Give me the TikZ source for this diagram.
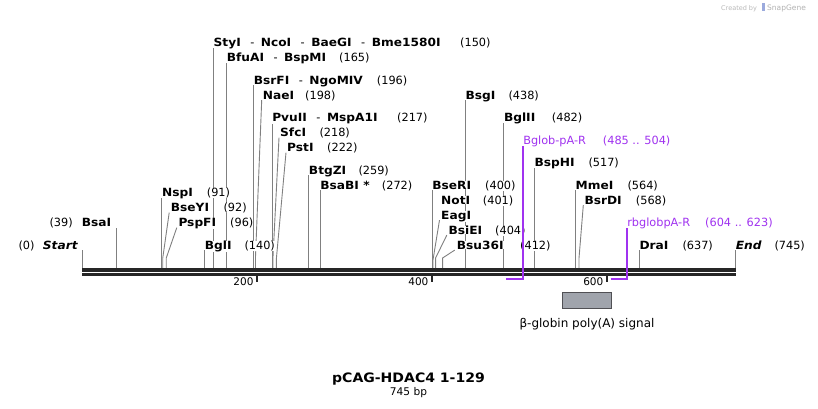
\documentclass[tikz,border=0pt]{standalone}
\usepackage{fontspec}
\setmainfont{DejaVu Sans}[BoldFeatures={FakeStretch=1.08},BoldItalicFeatures={FakeStretch=1.08}]
\usetikzlibrary{positioning, calc, backgrounds}

\definecolor{sitegray}{RGB}{128,128,128}
\definecolor{bbdark}{RGB}{38,38,38}
\definecolor{primerpurple}{RGB}{160,50,240}
\definecolor{featgray}{RGB}{160,164,172}
\definecolor{featedge}{RGB}{80,80,84}

\newcommand{\labfont}{\fontsize{11.3}{13}\selectfont}
\newcommand{\bpx}[1]{82.3+0.8745*#1}
\newcommand{\rowy}[1]{249.1-7.5*#1}
\newcommand{\enzsep}{\hspace{9.5pt}{\mdseries -}\hspace{6.5pt}}

\begin{document}
\begin{tikzpicture}[x=1pt, y=-1pt,
    enz/.style={anchor=base west, inner sep=0pt, fill=white, font=\labfont\bfseries},
    endlab/.style={enz, font=\labfont\bfseries\itshape},
    num/.style={anchor=base west, inner sep=0pt, fill=white, font=\labfont},
    site/.style={draw=sitegray, line width=0.9pt},
    primer/.style={draw=primerpurple, line width=1.5pt},
    tick/.style={draw=bbdark, line width=1.8pt},
    ticklab/.style={anchor=base east, inner sep=0pt, font=\fontsize{10.5}{12}\selectfont}]
    \useasboundingbox (0,0) rectangle (818,408);

    % Credit line
    \node[anchor=base west, inner sep=0pt, font=\fontsize{6.5}{7}\selectfont, text=gray!55] (credit) at (721,10) {Created by};
    \fill[cyan!35!blue!40] (761.5,3) rectangle (764.5,11);
    \node[anchor=base west, inner sep=0pt, font=\fontsize{7.5}{8}\selectfont, text=gray!60] (snapgene) at (767,10) {SnapGene};

    % Backbone
    \draw[bbdark, line width=3.7pt] (82.3,270.2) -- (735.7,270.2);
    \draw[bbdark, line width=2.3pt] (82.3,274.5) -- (735.7,274.5);

    % Ticks
    \foreach \t in {200,400,600} {
        \coordinate (k\t) at ({\bpx{\t}},275.7);
        \draw[tick] (k\t) -- ++(0,6.3);
        \node[ticklab] (tl\t) at ({\bpx{\t}-3.5},285.7) {\t};
    }

    % Site anchors on the backbone
    \foreach \s in {39,91,92,96,140,150,165,196,198,217,218,222,259,272,400,401,404,412,438,482,517,564,568,637}
        \coordinate (s\s) at ({\bpx{\s}},268);
    \coordinate (s0) at (82.3,268);
    \coordinate (s745) at (735.7,268);

    % Enzyme labels
    \node[num] (n0) at (18.3,{\rowy{0}}) {(0)};
    \node[endlab] (start) at (42.7,{\rowy{0}}) {Start};
    \node[endlab] (end) at (735.7,{\rowy{0}}) {End};
    \node[num] (n745) at (774.3,{\rowy{0}}) {(745)};
    \node[num] (n39) at (49.3,{\rowy{3}}) {(39)};
    \node[enz] (bsaI) at (81.7,{\rowy{3}}) {BsaI};

    \node[enz] (nspI) at ({\bpx{91}},{\rowy{7}}) {NspI};
    \node[num] (n91) at (206.7,{\rowy{7}}) {(91)};
    \node[enz] (bseYI) at (170.7,{\rowy{5}}) {BseYI};
    \node[num] (n92) at (223.3,{\rowy{5}}) {(92)};
    \node[enz] (pspFI) at (178.3,{\rowy{3}}) {PspFI};
    \node[num] (n96) at (230,{\rowy{3}}) {(96)};
    \node[enz] (bglI) at ({\bpx{140}},{\rowy{0}}) {BglI};
    \node[num] (n140) at (244.3,{\rowy{0}}) {(140)};

    \node[enz] (styI) at ({\bpx{150}},{\rowy{27}}) {StyI\enzsep NcoI\enzsep BaeGI\enzsep Bme1580I};
    \node[num] (n150) at (460,{\rowy{27}}) {(150)};
    \node[enz] (bfuAI) at ({\bpx{165}},{\rowy{25}}) {BfuAI\enzsep BspMI};
    \node[num] (n165) at (339,{\rowy{25}}) {(165)};
    \node[enz] (bsrFI) at ({\bpx{196}},{\rowy{22}}) {BsrFI\enzsep NgoMIV};
    \node[num] (n196) at (376.7,{\rowy{22}}) {(196)};
    \node[enz] (naeI) at (262.7,{\rowy{20}}) {NaeI};
    \node[num] (n198) at (305,{\rowy{20}}) {(198)};
    \node[enz] (pvuII) at ({\bpx{217}},{\rowy{17}}) {PvuII\enzsep MspA1I};
    \node[num] (n217) at (397,{\rowy{17}}) {(217)};
    \node[enz] (sfcI) at (280,{\rowy{15}}) {SfcI};
    \node[num] (n218) at (319.3,{\rowy{15}}) {(218)};
    \node[enz] (pstI) at (287,{\rowy{13}}) {PstI};
    \node[num] (n222) at (327,{\rowy{13}}) {(222)};
    \node[enz] (btgZI) at ({\bpx{259}},{\rowy{10}}) {BtgZI};
    \node[num] (n259) at (358.3,{\rowy{10}}) {(259)};
    \node[enz] (bsaBI) at ({\bpx{272}},{\rowy{8}}) {BsaBI *};
    \node[num] (n272) at (381.7,{\rowy{8}}) {(272)};

    \node[enz] (bseRI) at ({\bpx{400}},{\rowy{8}}) {BseRI};
    \node[num] (n400) at (485,{\rowy{8}}) {(400)};
    \node[enz] (notI) at (441,{\rowy{6}}) {NotI};
    \node[num] (n401) at (482.7,{\rowy{6}}) {(401)};
    \node[enz] (eagI) at (441,{\rowy{4}}) {EagI};
    \node[enz] (bsiEI) at (448.3,{\rowy{2}}) {BsiEI};
    \node[num] (n404) at (495,{\rowy{2}}) {(404)};
    \node[enz] (bsu36I) at (456.7,{\rowy{0}}) {Bsu36I};
    \node[num] (n412) at (520,{\rowy{0}}) {(412)};
    \node[enz] (bsgI) at ({\bpx{438}},{\rowy{20}}) {BsgI};
    \node[num] (n438) at (508.3,{\rowy{20}}) {(438)};

    \node[enz] (bglII) at ({\bpx{482}},{\rowy{17}}) {BglII};
    \node[num] (n482) at (551.7,{\rowy{17}}) {(482)};
    \node[enz] (bspHI) at ({\bpx{517}},{\rowy{11}}) {BspHI};
    \node[num] (n517) at (588.3,{\rowy{11}}) {(517)};
    \node[enz] (mmeI) at ({\bpx{564}},{\rowy{8}}) {MmeI};
    \node[num] (n564) at (627.3,{\rowy{8}}) {(564)};
    \node[enz] (bsrDI) at (584.3,{\rowy{6}}) {BsrDI};
    \node[num] (n568) at (635.7,{\rowy{6}}) {(568)};
    \node[enz] (draI) at ({\bpx{637}},{\rowy{0}}) {DraI};
    \node[num] (n637) at (682.3,{\rowy{0}}) {(637)};

    % Site lines, behind the labels
    \begin{scope}[on background layer]
        \fill[white] (0,0) rectangle (818,408);
        \draw[site] (s0) -- ($(s0 |- start.base)+(0,1)$);
        \draw[site] (s745) -- ($(end.base west)+(0,1)$);
        \draw[site] (s39) -- ($(s39 |- bsaI.base)+(0,1)$);
        \draw[site] (s91) -- ($(nspI.base west)+(0,1)$);
        \draw[site] (s92) -- ++(0,-10) -- ($(bseYI.base west)+(-1.5,1)$);
        \draw[site] (s96) -- ++(0,-10) -- ($(pspFI.base west)+(-1.5,1)$);
        \draw[site] (s140) -- ($(bglI.base west)+(0,1)$);
        \draw[site] (s150) -- ($(styI.base west)+(0,1)$);
        \draw[site] (s165) -- ($(bfuAI.base west)+(0,1)$);
        \draw[site] (s196) -- ($(bsrFI.base west)+(0,1)$);
        \draw[site] (s198) -- ++(0,-10) -- ($(naeI.base west)+(-1,1)$);
        \draw[site] (s217) -- ($(pvuII.base west)+(0,1)$);
        \draw[site] (s218) -- ++(0,-10) -- ($(sfcI.base west)+(-1,1)$);
        \draw[site] (s222) -- ++(0,-10) -- ($(pstI.base west)+(-1,1)$);
        \draw[site] (s259) -- ($(btgZI.base west)+(0,1)$);
        \draw[site] (s272) -- ($(bsaBI.base west)+(0,1)$);
        \draw[site] (s400) -- ($(bseRI.base west)+(0,1)$);
        \draw[site] (s401) -- ++(0,-8) -- ($(eagI.base west)+(-1.5,1)$);
        \draw[site] (s404) -- ++(0,-10) -- ($(bsiEI.base west)+(-1.5,1)$);
        \draw[site] (s412) -- ++(0,-10) -- ($(bsu36I.base west)+(-2,1)$);
        \draw[site] (s438) -- ($(bsgI.base west)+(0,1)$);
        \draw[site] (s482) -- ($(bglII.base west)+(0,1)$);
        \draw[site] (s517) -- ($(bspHI.base west)+(0,1)$);
        \draw[site] (s564) -- ($(mmeI.base west)+(0,1)$);
        \draw[site] (s568) -- ++(0,-10) -- ($(bsrDI.base west)+(-1,1)$);
        \draw[site] (s637) -- ($(draI.base west)+(0,1)$);
    \end{scope}

    % Primers
    \coordinate (p485) at ({\bpx{485}},279);
    \coordinate (p504) at ({\bpx{504}},279);
    \node[num, text=primerpurple] (bglob) at ({\bpx{504}},{\rowy{14}}) {Bglob-pA-R};
    \node[num, text=primerpurple] (nbglob) at (602.7,{\rowy{14}}) {(485 .. 504)};
    \draw[primer] (p485) -- (p504) -- ($(bglob.base west)+(0,1.5)$);
    \coordinate (p604) at ({\bpx{604}},279);
    \coordinate (p623) at ({\bpx{623}},279);
    \node[num, text=primerpurple] (rbglob) at ({\bpx{623}},{\rowy{3}}) {rbglobpA-R};
    \node[num, text=primerpurple] (nrbglob) at (705,{\rowy{3}}) {(604 .. 623)};
    \draw[primer] (p604) -- (p623) -- ($(rbglob.base west)+(0,1.5)$);

    % Feature
    \node[draw=featedge, fill=featgray, line width=0.8pt, minimum width=49.4pt, minimum height=16pt, inner sep=0pt] (polyA) at (587,300.3) {};
    \node[below=9pt of polyA, inner sep=0pt, font=\fontsize{12}{14}\selectfont] (polyAlab) {β-globin poly(A) signal};

    % Title
    \node[anchor=base, inner sep=0pt, font=\fontsize{13}{15}\selectfont\bfseries] (title) at (408.5,382.7) {pCAG-HDAC4 1-129};
    \node[anchor=base, inner sep=0pt, font=\fontsize{10.6}{12}\selectfont] (size) at (408.5,395.3) {745 bp};
\end{tikzpicture}
\end{document}
